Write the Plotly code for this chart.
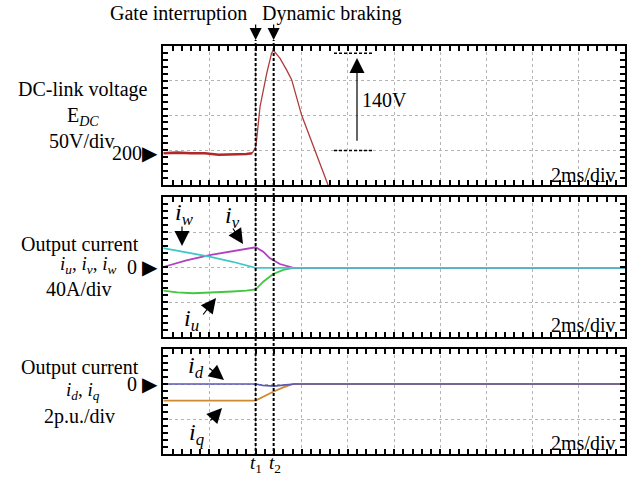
import plotly.graph_objects as go

W, H = 638, 477

# DC-link voltage E_DC [V] against time [ms]
v_time = [0.0, 0.6, 1.2, 1.8, 2.4, 3.0, 3.6, 3.85, 4.0, 4.04, 4.19, 4.48, 4.69, 4.77,
          5.05, 5.34, 5.56, 5.99, 6.57, 7.14, 7.40]
v_dc = [200, 201, 200, 200, 198, 198, 199, 200, 209, 219, 267, 315, 344, 348,
        337, 320, 306, 255, 204, 154, 124]

# output phase currents [A]
iw_time = [0.0, 1.0, 2.0, 3.0, 4.0, 20.0]
i_w = [21.5, 17.0, 11.8, 6.0, -1.0, -1.0]
iv_time = [0.0, 1.0, 2.0, 3.0, 4.0, 4.33, 4.62, 5.05, 5.63, 20.0]
i_v = [0.0, 7.5, 13.7, 18.5, 22.5, 17.5, 9.9, 3.4, -1.0, -1.0]
iu_time = [0.0, 0.6, 1.3, 2.0, 3.0, 3.6, 4.0, 4.33, 4.76, 5.2, 5.63, 20.0]
i_u = [-27.0, -29.0, -30.0, -29.5, -28.0, -27.0, -25.5, -16.8, -8.0, -3.4, -1.0, -1.0]

# output currents in the dq frame [p.u.]
id_time = [0.0, 4.0, 4.3, 4.8, 5.3, 5.7, 20.0]
i_d = [0.0, 0.0, -0.08, -0.12, -0.05, 0.0, 0.0]
iq_time = [0.0, 4.0, 4.76, 5.2, 5.63, 20.0]
i_q = [-0.95, -0.95, -0.44, -0.19, 0.0, 0.0]

# events: gate interruption (t1) and start of dynamic braking (t2)
T_GATE = 4.0
T_BRAKE = 4.78
V_REF = 200          # marked DC level
V_RISE = 140         # overshoot marker
V_MARK_LO = 204

SERIF = "Liberation Serif, Times New Roman, serif"
MIXED = "Liberation Serif, DejaVu Sans, serif"


def px(x):
    return x / W


def py(y):
    return 1 - y / H


X_DOM = [px(163.3), px(625)]


def frame(rng, dtick, minor, domain, anchor, tick0=0):
    return dict(
        domain=domain, range=rng, tick0=tick0, dtick=dtick, anchor=anchor,
        showgrid=True, gridcolor="#b4b4b4", griddash="dot", gridwidth=1,
        zeroline=False, showline=True, linecolor="black", linewidth=2,
        mirror="allticks", ticks="inside", ticklen=5, tickwidth=1.5,
        tickcolor="black", showticklabels=False, fixedrange=True,
        minor=dict(dtick=minor, tick0=tick0, ticks="inside", ticklen=5,
                   tickwidth=1.5, tickcolor="black", showgrid=False),
    )


fig = go.Figure()

pre = [k for k, t in enumerate(v_time) if t <= 3.85]
fig.add_trace(go.Scatter(x=[v_time[k] for k in pre], y=[v_dc[k] for k in pre],
                         mode="lines", line=dict(color="#b02828", width=2.6),
                         xaxis="x", yaxis="y", hoverinfo="skip"))
fig.add_trace(go.Scatter(x=v_time[pre[-1]:], y=v_dc[pre[-1]:], mode="lines",
                         line=dict(color="#b03a3a", width=1.3),
                         xaxis="x", yaxis="y", hoverinfo="skip"))

for tt, vv, col in [(iu_time, i_u, "#40c840"), (iv_time, i_v, "#b040c0"),
                    (iw_time, i_w, "#40c8c8")]:
    fig.add_trace(go.Scatter(x=tt, y=vv, mode="lines", line=dict(color=col, width=1.8),
                             xaxis="x2", yaxis="y2", hoverinfo="skip"))

fig.add_trace(go.Scatter(x=iq_time, y=i_q, mode="lines",
                         line=dict(color="#d08a30", width=1.8),
                         xaxis="x3", yaxis="y3", hoverinfo="skip"))
fig.add_trace(go.Scatter(x=id_time, y=i_d, mode="lines",
                         line=dict(color="#5a5ab4", width=1.6),
                         xaxis="x3", yaxis="y3", hoverinfo="skip"))

v_lo = V_REF - (185 - 153.3) / 34.75 * 50
fig.update_layout(
    width=W, height=H, margin=dict(l=0, r=0, t=0, b=0),
    paper_bgcolor="white", plot_bgcolor="white", showlegend=False,
    xaxis=frame([0, 20], 2, 0.4, X_DOM, "y"),
    yaxis=frame([v_lo, v_lo + 200], 50, 10, [py(185), py(46)], "x", tick0=v_lo),
    xaxis2=frame([0, 20], 2, 0.4, X_DOM, "y2"),
    yaxis2=frame([-80, 80], 40, 8, [py(337), py(197)], "x2"),
    xaxis3=frame([0, 20], 2, 0.4, X_DOM, "y3"),
    yaxis3=frame([-4, 2], 2, 0.4, [py(454), py(349)], "x3"),
)

shapes = []
for t in (T_GATE, T_BRAKE):
    shapes.append(dict(type="line", xref="x", yref="paper", x0=t, x1=t,
                       y0=py(456), y1=py(40), layer="above",
                       line=dict(color="black", width=2, dash="3px,2px")))
for v in (V_MARK_LO, V_MARK_LO + V_RISE):
    shapes.append(dict(type="line", xref="paper", yref="y", x0=px(334), x1=px(373),
                       y0=v, y1=v, line=dict(color="black", width=1.6, dash="3px,2px")))
fig.update_layout(shapes=shapes)

ann = []


def text(x, y, s, size=20, anchor="center", family=SERIF):
    ann.append(dict(xref="paper", yref="paper", x=px(x), y=py(y), text=s,
                    showarrow=False, xanchor=anchor, yanchor="middle",
                    font=dict(family=family, size=size, color="black")))


def arrow(x, y, dx, dy, size=2.5, width=1.2):
    ann.append(dict(xref="paper", yref="paper", x=px(x), y=py(y), ax=dx, ay=dy,
                    axref="pixel", ayref="pixel", text="", showarrow=True,
                    arrowhead=2, arrowsize=size, arrowwidth=width,
                    arrowcolor="black", standoff=0))


# event captions
text(249, 14, "Gate interruption", anchor="right")
text(260, 14, "Dynamic braking", anchor="left")
for t in (T_GATE, T_BRAKE):
    ann.append(dict(xref="x", yref="paper", x=t, y=py(40), ax=0, ay=-17,
                    text="", showarrow=True, arrowhead=2, arrowsize=2.0,
                    arrowwidth=1.2, arrowcolor="black", standoff=0))
text(255.7, 464, "<i>t</i><sub>1</sub>", size=19)
text(275, 464, "<i>t</i><sub>2</sub>", size=19)

# panel 1 labels
text(83, 89, "DC-link voltage")
text(83, 116, "E<sub><i>DC</i></sub>")
text(82, 141, "50V/div")
ann.append(dict(xref="paper", yref="y", x=px(160), y=V_REF, text="200▶",
                showarrow=False, xanchor="right", yanchor="middle",
                font=dict(family=MIXED, size=20, color="black")))
text(617, 175, "2ms/div", anchor="right")
ann.append(dict(xref="paper", yref="y", x=px(357), y=V_MARK_LO + V_RISE - 7,
                axref="pixel", ayref="y", ax=0, ay=V_MARK_LO + 12, text="",
                showarrow=True, arrowhead=2, arrowsize=2.5, arrowwidth=1.2,
                arrowcolor="black", standoff=0))
text(360, 100, "140V", anchor="left")

# panel 2 labels
text(80, 244, "Output current")
text(88, 265, "<i>i<sub>u</sub></i>, <i>i<sub>v</sub></i>, <i>i<sub>w</sub></i>", size=19)
text(79, 289, "40A/div")
ann.append(dict(xref="paper", yref="y2", x=px(160), y=0, text="0 ▶",
                showarrow=False, xanchor="right", yanchor="middle",
                font=dict(family=MIXED, size=20, color="black")))
text(617, 325, "2ms/div", anchor="right")
text(184, 214, "<i>i<sub>w</sub></i>", size=24)
arrow(182, 246, 0, -21)
text(232, 217, "<i>i<sub>v</sub></i>", size=24)
arrow(243, 244, -11, -17)
text(191, 320, "<i>i<sub>u</sub></i>", size=24)
arrow(216, 298, -14, 18)

# panel 3 labels
text(80, 367, "Output current")
text(83, 391, "<i>i<sub>d</sub></i>, <i>i<sub>q</sub></i>", size=19)
text(80, 416, "2p.u./div")
ann.append(dict(xref="paper", yref="y3", x=px(160), y=0, text="0 ▶",
                showarrow=False, xanchor="right", yanchor="middle",
                font=dict(family=MIXED, size=20, color="black")))
text(617, 443, "2ms/div", anchor="right")
text(196, 367, "<i>i<sub>d</sub></i>", size=24)
arrow(224, 380, -16, -13)
text(196, 434, "<i>i<sub>q</sub></i>", size=24)
arrow(222, 408, -13, 14)

fig.update_layout(annotations=ann)
fig.write_html("out.html")
